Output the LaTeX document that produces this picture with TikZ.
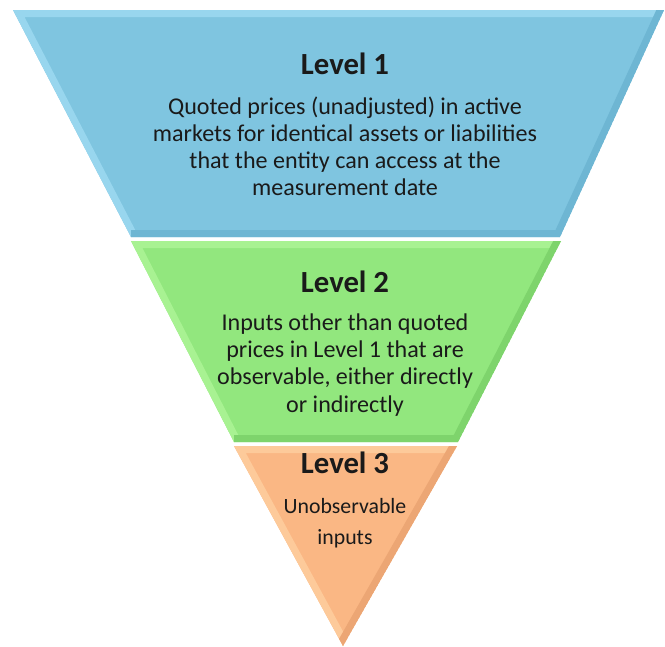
\documentclass[tikz,border=0pt]{standalone}
\usepackage{fontspec}
\setmainfont{Carlito}
\usetikzlibrary{positioning, calc}

% band colours: fill, light bevel, dark bevel
\definecolor{lvlonefill}{RGB}{127,197,224}
\definecolor{lvlonelight}{RGB}{152,214,238}
\definecolor{lvlonedark}{RGB}{110,182,211}
\definecolor{lvltwofill}{RGB}{146,231,126}
\definecolor{lvltwolight}{RGB}{168,242,146}
\definecolor{lvltwodark}{RGB}{126,212,108}
\definecolor{lvlthreefill}{RGB}{250,183,132}
\definecolor{lvlthreelight}{RGB}{253,202,154}
\definecolor{lvlthreedark}{RGB}{236,166,116}
\definecolor{textgray}{RGB}{26,26,26}

\begin{document}
\begin{tikzpicture}[
    % one unit = one pixel, y pointing down
    x=0.02cm, y=-0.02cm,
    bevel/.style={line width=0.28cm, line join=miter},
    title/.style={font=\fontsize{17.5}{20}\selectfont\bfseries, text=textgray},
    body/.style={font=\fontsize{13.7}{15.4}\selectfont, text=textgray, align=center},
  ]
    \useasboundingbox (0,0) rectangle (665,646);

    % --- Level 1: top trapezoid ---
    \coordinate (a1) at (13,10);
    \coordinate (b1) at (664,10);
    \coordinate (c1) at (560,237);
    \coordinate (d1) at (131,237);
    \begin{scope}
      \clip (a1) -- (b1) -- (c1) -- (d1) -- cycle;
      \fill[lvlonefill] (a1) -- (b1) -- (c1) -- (d1) -- cycle;
      \draw[bevel, lvlonelight] (d1) -- (a1) -- (b1);
      \draw[bevel, lvlonedark] (b1) -- (c1) -- (d1);
    \end{scope}

    % --- Level 2: middle trapezoid ---
    \coordinate (a2) at (131,241);
    \coordinate (b2) at (561,241);
    \coordinate (c2) at (458,442);
    \coordinate (d2) at (234,442);
    \begin{scope}
      \clip (a2) -- (b2) -- (c2) -- (d2) -- cycle;
      \fill[lvltwofill] (a2) -- (b2) -- (c2) -- (d2) -- cycle;
      \draw[bevel, lvltwolight] (d2) -- (a2) -- (b2);
      \draw[bevel, lvltwodark] (b2) -- (c2) -- (d2);
    \end{scope}

    % --- Level 3: bottom triangle ---
    \coordinate (a3) at (234,446);
    \coordinate (b3) at (457,446);
    \coordinate (c3) at (343,646);
    \begin{scope}
      \clip (a3) -- (b3) -- (c3) -- cycle;
      \fill[lvlthreefill] (a3) -- (b3) -- (c3) -- cycle;
      \draw[bevel, lvlthreelight] (c3) -- (a3) -- (b3);
      \draw[bevel, lvlthreedark] (b3) -- (c3);
    \end{scope}

    % --- Labels ---
    \node[title] (lvlonetitle) at (345,64) {Level 1};
    \node[body] (lvlonetext) at (345,146)
      {Quoted prices (unadjusted) in active\\
       markets for identical assets or liabilities\\
       that the entity can access at the\\
       measurement date};

    \node[title] (lvltwotitle) at (345,282) {Level 2};
    \node[body] (lvltwotext) at (345,365)
      {Inputs other than quoted\\
       prices in Level 1 that are\\
       observable, either directly\\
       or indirectly};

    \node[title] (lvlthreetitle) at (345,463) {Level 3};
    \node[body, font=\fontsize{12.4}{17.5}\selectfont] (lvlthreetext) at (345,523)
      {Unobservable\\inputs};
  \end{tikzpicture}
\end{document}
